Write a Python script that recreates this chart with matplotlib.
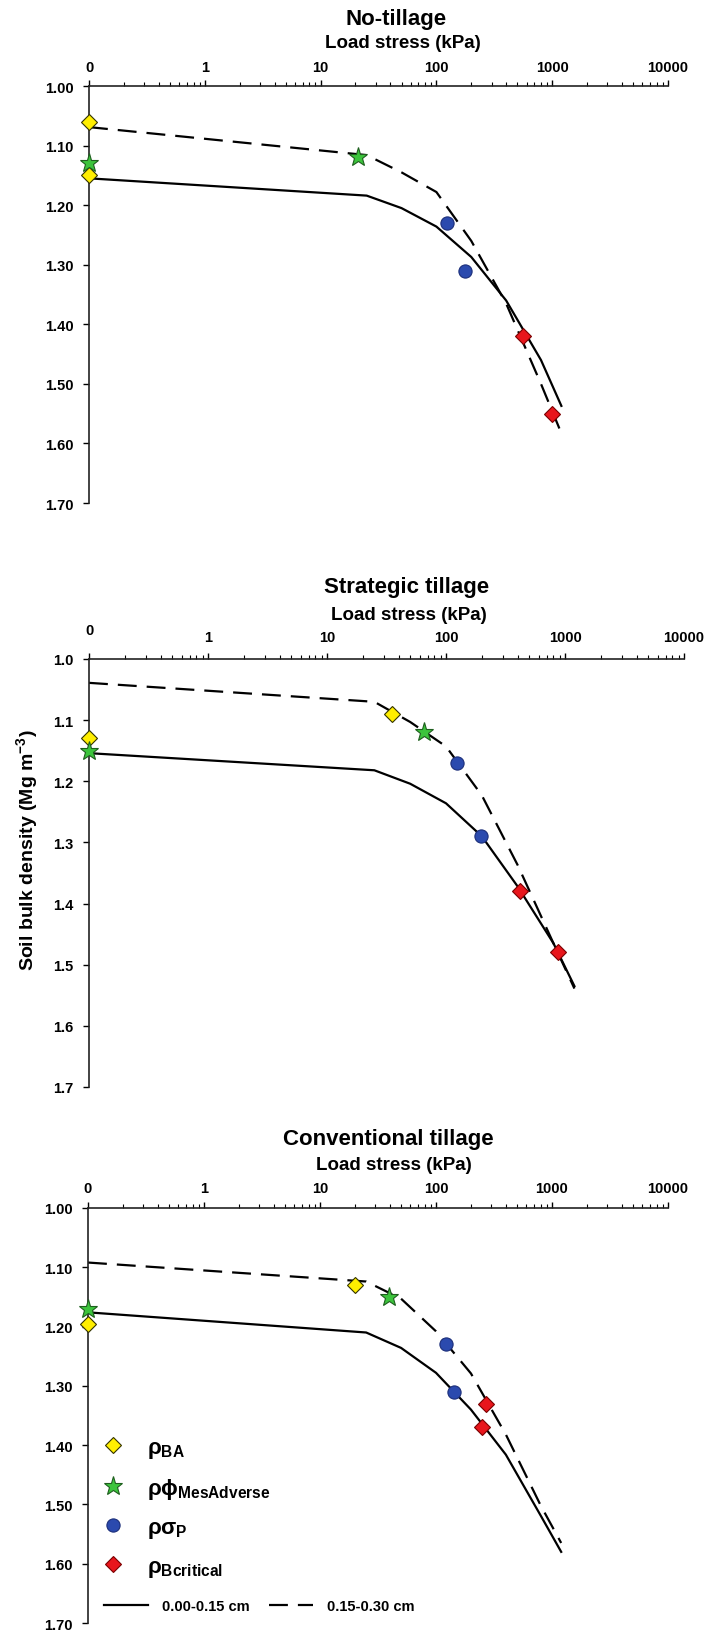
import matplotlib
matplotlib.use("Agg")
import matplotlib.pyplot as plt
from matplotlib.lines import Line2D
from matplotlib.transforms import ScaledTranslation
from matplotlib.ticker import FixedLocator, LogLocator, FormatStrFormatter, NullFormatter

plt.rcParams['font.family'] = ['Liberation Sans', 'DejaVu Sans']
plt.rcParams['font.weight'] = 'bold'
plt.rcParams['mathtext.fontset'] = 'custom'
plt.rcParams['mathtext.rm'] = 'Liberation Sans'
plt.rcParams['mathtext.it'] = 'Liberation Sans'
plt.rcParams['mathtext.bf'] = 'Liberation Sans:bold'

# load steps of the compression curves (0.1 is drawn as "0")
loads = [0.1, 25, 50, 100, 200, 400, 800, 1200]

# No-tillage
nt_solid = [1.155, 1.184, 1.205, 1.236, 1.287, 1.360, 1.460, 1.537]
nt_dashed = [1.069, 1.116, 1.145, 1.178, 1.260, 1.365, 1.500, 1.583]
nt_ba_x, nt_ba_y = [0.1, 0.1], [1.06, 1.15]
nt_phi_x, nt_phi_y = [0.1, 21], [1.13, 1.12]
nt_sig_x, nt_sig_y = [124, 177], [1.23, 1.31]
nt_crit_x, nt_crit_y = [560, 1000], [1.42, 1.55]

# Strategic tillage
st_solid = [1.154, 1.182, 1.204, 1.236, 1.290, 1.372, 1.465, 1.535]
st_dashed = [1.039, 1.070, 1.103, 1.143, 1.223, 1.337, 1.465, 1.539]
st_ba_x, st_ba_y = [0.1, 35], [1.13, 1.09]
st_phi_x, st_phi_y = [0.1, 65], [1.15, 1.12]
st_sig_x, st_sig_y = [124, 197], [1.17, 1.29]
st_crit_x, st_crit_y = [419, 877], [1.38, 1.48]

# Conventional tillage
ct_solid = [1.176, 1.210, 1.236, 1.278, 1.340, 1.416, 1.519, 1.580]
ct_dashed = [1.092, 1.124, 1.153, 1.208, 1.279, 1.382, 1.502, 1.565]
ct_ba_x, ct_ba_y = [0.1, 20], [1.195, 1.13]
ct_phi_x, ct_phi_y = [0.1, 39], [1.17, 1.15]
ct_sig_x, ct_sig_y = [121, 142], [1.23, 1.31]
ct_crit_x, ct_crit_y = [272, 249], [1.33, 1.37]

x_ticks = [0.1, 1, 10, 100, 1000, 10000]
x_ticklabels = ['0', '1', '10', '100', '1000', '10000']
y_ticks = [1.0, 1.1, 1.2, 1.3, 1.4, 1.5, 1.6, 1.7]

W, H = 710, 1633
fig = plt.figure(figsize=(W / 100, H / 100), dpi=100)


def px_axes(left, right, top, bottom):
    return fig.add_axes([left / W, 1 - bottom / H, (right - left) / W, (bottom - top) / H])


yellow = dict(marker='D', ms=7.8, mfc='#FFEE00', mec='#333300', mew=0.8, ls='none')
green = dict(marker='*', ms=14, mfc='#3CC43C', mec='#1E5E1E', mew=0.8, ls='none')
blue = dict(marker='o', ms=9.5, mfc='#2B4AAE', mec='#1C2F7A', mew=0.8, ls='none')
red = dict(marker='D', ms=7.8, mfc='#E8161C', mec='#7A0000', mew=0.8, ls='none')
dash = (8.5, 4.5)

panels = [
    dict(title='No-tillage', box=(89, 668, 87, 504), fmt='%.2f', title_xy=(396, 19), lab_xy=(403, 44),
         pad=4.5, solid=nt_solid, dashed=nt_dashed,
         pts=[(nt_ba_x, nt_ba_y, yellow), (nt_phi_x, nt_phi_y, green),
              (nt_sig_x, nt_sig_y, blue), (nt_crit_x, nt_crit_y, red)]),
    dict(title='Strategic tillage', box=(89, 684, 660, 1088), fmt='%.1f', title_xy=(407, 588), lab_xy=(409, 615),
         pad=7, solid=st_solid, dashed=st_dashed,
         pts=[(st_ba_x, st_ba_y, yellow), (st_phi_x, st_phi_y, green),
              (st_sig_x, st_sig_y, blue), (st_crit_x, st_crit_y, red)]),
    dict(title='Conventional tillage', box=(88, 668, 1209, 1624), fmt='%.2f', title_xy=(388, 1140), lab_xy=(394, 1165),
         pad=5.5, solid=ct_solid, dashed=ct_dashed,
         pts=[(ct_ba_x, ct_ba_y, yellow), (ct_phi_x, ct_phi_y, green),
              (ct_sig_x, ct_sig_y, blue), (ct_crit_x, ct_crit_y, red)]),
]

axes = []
for p in panels:
    ax = px_axes(*p['box'])
    axes.append(ax)
    ax.plot(loads, p['solid'], color='black', lw=1.6, zorder=2)
    ax.plot(loads, p['dashed'], color='black', lw=1.6, dashes=dash, zorder=2)
    for xs, ys, st in p['pts']:
        ax.plot(xs, ys, clip_on=False, zorder=4, **st)

    ax.set_xscale('log')
    ax.set_xlim(0.1, 10000)
    ax.set_ylim(1.70, 1.00)
    ax.xaxis.tick_top()
    ax.xaxis.set_major_locator(FixedLocator(x_ticks))
    ax.set_xticklabels(x_ticklabels)
    ax.xaxis.set_minor_locator(LogLocator(base=10, subs=range(2, 10)))
    ax.xaxis.set_minor_formatter(NullFormatter())
    ax.set_yticks(y_ticks)
    ax.yaxis.set_major_formatter(FormatStrFormatter(p['fmt']))
    for side in ['right', 'bottom']:
        ax.spines[side].set_visible(False)
    for side in ['left', 'top']:
        ax.spines[side].set_linewidth(1.2)
        ax.spines[side].set_color('#222222')
    ax.tick_params(axis='x', which='major', direction='out', length=4, width=1, pad=p['pad'], labelsize=10.5)
    ax.tick_params(axis='x', which='minor', direction='out', length=3, width=0.8)
    ax.tick_params(axis='y', direction='out', length=4, width=1, pad=7, labelsize=10.5)

    fig.text(p['title_xy'][0] / W, 1 - p['title_xy'][1] / H, p['title'], ha='center', va='center',
             fontsize=16, fontweight='bold')
    fig.text(p['lab_xy'][0] / W, 1 - p['lab_xy'][1] / H, 'Load stress (kPa)', ha='center', va='center',
             fontsize=13.5, fontweight='bold')

# the "0" label of the middle panel sits a little higher in the original
zero_lab = axes[1].get_xticklabels()[0]
zero_lab.set_transform(zero_lab.get_transform() + ScaledTranslation(0, 7 / 100, fig.dpi_scale_trans))

fig.text(27 / W, 1 - 850 / H, r'Soil bulk density (Mg m$^{\mathbf{-3}}$)', rotation=90, ha='center',
         va='center', fontsize=14, fontweight='bold')

# legends in the bottom panel
ax = axes[2]
marker_handles = [Line2D([], [], **yellow), Line2D([], [], **green), Line2D([], [], **blue), Line2D([], [], **red)]
marker_labels = [r'$\rho_{\mathbf{BA}}$', r'$\rho\phi_{\mathbf{MesAdverse}}$', r'$\rho\sigma_{\mathbf{P}}$',
                 r'$\rho_{\mathbf{Bcritical}}$']
leg1 = ax.legend(marker_handles, marker_labels, loc='upper left', bbox_to_anchor=(99 / W, 1 - 1438 / H),
                 bbox_transform=fig.transFigure, frameon=False, fontsize=16, handlelength=1.3,
                 handletextpad=0.85, labelspacing=0.72, borderpad=0, borderaxespad=0)
ax.add_artist(leg1)

line_handles = [Line2D([], [], color='black', lw=1.6), Line2D([], [], color='black', lw=1.6, dashes=dash)]
ax.legend(line_handles, ['0.00-0.15 cm', '0.15-0.30 cm'], loc='upper left', ncol=2,
          bbox_to_anchor=(104 / W, 1 - 1600 / H), bbox_transform=fig.transFigure, frameon=False,
          prop=dict(size=10.5, weight='bold'), handlelength=3.0, handletextpad=1.0, columnspacing=1.3,
          borderpad=0, borderaxespad=0)

fig.savefig('out.png', dpi=100)
